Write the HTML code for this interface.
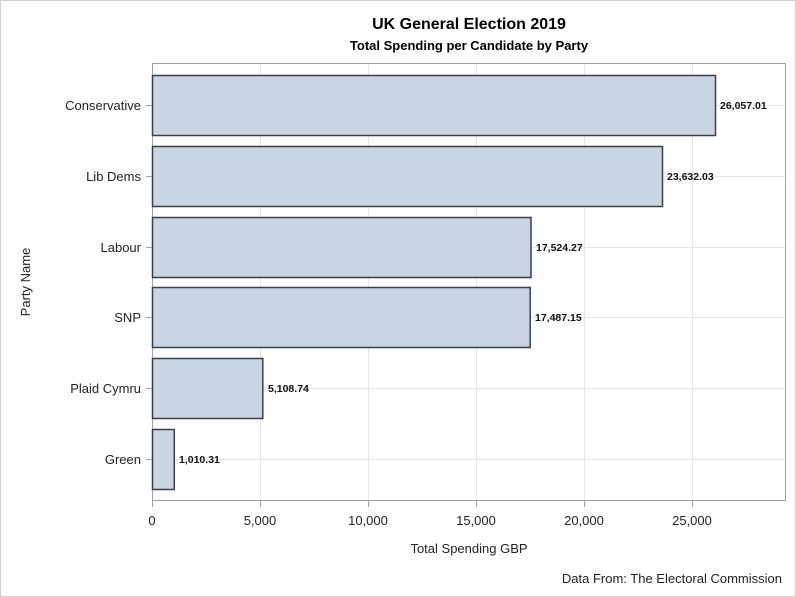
<!DOCTYPE html>
<html><head><style>
body{margin:0;background:#fff}
svg{display:block;font-family:"Liberation Sans",sans-serif}
</style></head><body>
<svg width="796" height="597" viewBox="0 0 796 597">
<rect x="0.5" y="0.5" width="795" height="596" fill="#fff" stroke="#d0d0d0"/>
<text x="469" y="29" text-anchor="middle" font-size="16" font-weight="bold" fill="#000">UK General Election 2019</text>
<text x="469" y="50" text-anchor="middle" font-size="13" font-weight="bold" fill="#000">Total Spending per Candidate by Party</text>
<g stroke="#e6e6e6" stroke-width="1">
<line x1="260.5" y1="64" x2="260.5" y2="500"/>
<line x1="368.5" y1="64" x2="368.5" y2="500"/>
<line x1="476.5" y1="64" x2="476.5" y2="500"/>
<line x1="584.5" y1="64" x2="584.5" y2="500"/>
<line x1="692.5" y1="64" x2="692.5" y2="500"/>
<line x1="153" y1="105.5" x2="785" y2="105.5"/>
<line x1="153" y1="176.5" x2="785" y2="176.5"/>
<line x1="153" y1="247.5" x2="785" y2="247.5"/>
<line x1="153" y1="317.5" x2="785" y2="317.5"/>
<line x1="153" y1="388.5" x2="785" y2="388.5"/>
<line x1="153" y1="459.5" x2="785" y2="459.5"/>
</g>
<rect x="152.5" y="63.5" width="633" height="437" fill="none" stroke="#a0a0a0"/>
<g fill="#cad5e4" stroke="#3a3f48" stroke-width="1.5">
<rect x="152.5" y="75.5" width="563" height="60"/>
<rect x="152.5" y="146.5" width="510" height="60"/>
<rect x="152.5" y="217.5" width="378.5" height="60"/>
<rect x="152.5" y="287.5" width="377.7" height="60"/>
<rect x="152.5" y="358.5" width="110.3" height="60"/>
<rect x="152.5" y="429.5" width="21.8" height="60"/>
</g>
<g font-size="10.5" font-weight="bold" fill="#111">
<text x="720" y="109">26,057.01</text>
<text x="667" y="180">23,632.03</text>
<text x="536" y="251">17,524.27</text>
<text x="535" y="321">17,487.15</text>
<text x="268" y="392">5,108.74</text>
<text x="179" y="463">1,010.31</text>
</g>
<g stroke="#a0a0a0">
<line x1="146" y1="105.5" x2="152" y2="105.5"/>
<line x1="146" y1="176.5" x2="152" y2="176.5"/>
<line x1="146" y1="247.5" x2="152" y2="247.5"/>
<line x1="146" y1="317.5" x2="152" y2="317.5"/>
<line x1="146" y1="388.5" x2="152" y2="388.5"/>
<line x1="146" y1="459.5" x2="152" y2="459.5"/>
<line x1="152.5" y1="501" x2="152.5" y2="507"/>
<line x1="260.5" y1="501" x2="260.5" y2="507"/>
<line x1="368.5" y1="501" x2="368.5" y2="507"/>
<line x1="476.5" y1="501" x2="476.5" y2="507"/>
<line x1="584.5" y1="501" x2="584.5" y2="507"/>
<line x1="692.5" y1="501" x2="692.5" y2="507"/>
</g>
<g font-size="13" fill="#222" text-anchor="end">
<text x="141" y="110">Conservative</text>
<text x="141" y="181">Lib Dems</text>
<text x="141" y="252">Labour</text>
<text x="141" y="322">SNP</text>
<text x="141" y="393">Plaid Cymru</text>
<text x="141" y="464">Green</text>
</g>
<g font-size="13" fill="#222" text-anchor="middle">
<text x="152" y="525">0</text>
<text x="260" y="525">5,000</text>
<text x="368" y="525">10,000</text>
<text x="476" y="525">15,000</text>
<text x="584" y="525">20,000</text>
<text x="692" y="525">25,000</text>
<text x="469" y="553">Total Spending GBP</text>
</g>
<text x="30" y="282" font-size="13" fill="#222" text-anchor="middle" transform="rotate(-90 30 282)">Party Name</text>
<text x="782" y="583" font-size="13" fill="#222" text-anchor="end">Data From: The Electoral Commission</text>
</svg>
</body></html>
